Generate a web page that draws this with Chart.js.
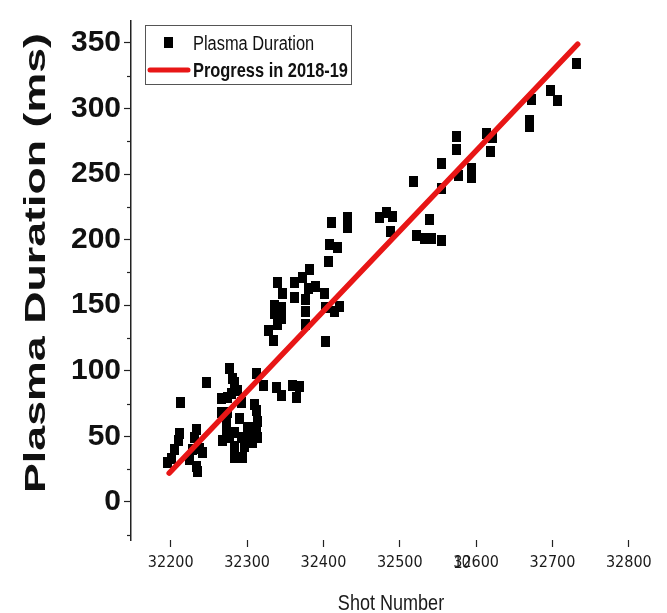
<!DOCTYPE html>
<html>
<head>
<meta charset="utf-8">
<script src="https://cdn.jsdelivr.net/npm/chart.js@4.4.1/dist/chart.umd.min.js"></script>
<style>
  html, body { margin: 0; padding: 0; background: #fff; }
</style>
</head>
<body>
<canvas id="chart" width="667" height="613"></canvas>
<script>
// shot numbers and plasma durations (ms)
const shotNumber = [
  32196, 32201, 32205, 32210, 32212, 32213, 32225, 32228, 32231, 32234,
  32234, 32235, 32238, 32241, 32247, 32267, 32267, 32268, 32273, 32273,
  32275, 32275, 32277, 32277, 32280, 32281, 32284, 32284, 32284, 32284,
  32288, 32290, 32293, 32293, 32294, 32297, 32301, 32303, 32307, 32310,
  32313, 32313, 32313, 32314, 32314, 32321, 32328, 32334, 32336, 32336,
  32339, 32340, 32340, 32345, 32345, 32345, 32347, 32359, 32362, 32362,
  32365, 32369, 32373, 32376, 32376, 32376, 32380, 32382, 32389, 32402,
  32403, 32403, 32406, 32408, 32410, 32414, 32418, 32421, 32431, 32432,
  32474, 32482, 32488, 32491, 32518, 32522, 32533, 32539, 32541, 32555,
  32555, 32555, 32574, 32574, 32577, 32594, 32594, 32614, 32619, 32622,
  32670, 32670, 32673, 32697, 32706, 32732
];
const plasmaDuration = [
  30, 33, 40, 47, 52, 76, 32, 40, 49, 27,
  55, 23, 41, 38, 91, 79, 68, 47, 64, 55,
  80, 68, 102, 49, 83, 94, 91, 53, 42, 34,
  85, 64, 76, 49, 34, 42, 57, 49, 45, 74,
  98, 70, 57, 61, 49, 89, 131, 123, 150, 144,
  87, 167, 135, 148, 140, 81, 159, 89, 167, 156,
  80, 88, 171, 154, 145, 135, 163, 177, 164, 159,
  148, 122, 183, 196, 213, 145, 194, 149, 217, 209,
  217, 221, 206, 218, 244, 203, 201, 215, 201, 258,
  239, 199, 279, 269, 249, 254, 247, 281, 267, 278,
  291, 286, 307, 314, 306, 334
];

// fitted progress line (two end points)
const trendShots = [32198, 32733];
const trendDuration = [22, 349];

const xTickValues = [32200, 32300, 32400, 32500, 32600, 32700, 32800];
const yTickValues = [0, 50, 100, 150, 200, 250, 300, 350];
const yMinorValues = [-25, 25, 75, 125, 175, 225, 275, 325];

const condFont = "'DejaVu Sans Condensed', 'Liberation Sans', sans-serif";
const boldFont = "'Liberation Sans', Arial, sans-serif";

// little black box used as the scatter marker
const marker = document.createElement('canvas');
marker.width = 9;
marker.height = 11;
const mctx = marker.getContext('2d');
mctx.fillStyle = '#000';
mctx.fillRect(0, 0, 9, 11);

// Arial-narrow look: Liberation Sans squeezed sideways
function narrowText(ctx, text, x, y, font, align) {
  ctx.save();
  ctx.font = font;
  ctx.textAlign = align;
  ctx.textBaseline = 'alphabetic';
  ctx.translate(x, y);
  ctx.scale(0.82, 1);
  ctx.fillText(text, 0, 0);
  ctx.restore();
}

const extrasPlugin = {
  id: 'extras',
  afterDraw(chart) {
    const ctx = chart.ctx;
    const area = chart.chartArea;
    const yScale = chart.scales.y;
    const ds = chart.data.datasets;

    // minor ticks on the y axis
    ctx.save();
    ctx.strokeStyle = '#222';
    ctx.lineWidth = 1.2;
    yMinorValues.forEach(v => {
      const py = Math.round(yScale.getPixelForValue(v)) + 0.5;
      ctx.beginPath();
      ctx.moveTo(area.left - 4, py);
      ctx.lineTo(area.left, py);
      ctx.stroke();
    });
    ctx.restore();

    // y axis title, wide bold lettering
    ctx.save();
    const title = 'Plasma Duration (ms)';
    ctx.translate(37, 263);
    ctx.rotate(-Math.PI / 2);
    ctx.font = 'bold 30px ' + boldFont;
    const w = ctx.measureText(title).width;
    ctx.scale(460 / w, 1);
    ctx.fillStyle = '#111';
    ctx.textAlign = 'center';
    ctx.textBaseline = 'middle';
    ctx.fillText(title, 0, 0);
    ctx.restore();

    ctx.save();
    ctx.fillStyle = '#1a1a1a';
    // x axis title
    narrowText(ctx, 'Shot Number', (area.left + area.right) / 2, 610, '22px ' + boldFont, 'center');
    // stray "10" that sits on top of the 32600 label
    narrowText(ctx, '10', 462, 568, '18px ' + boldFont, 'center');
    ctx.restore();

    // legend box
    ctx.save();
    ctx.strokeStyle = '#555';
    ctx.lineWidth = 1;
    ctx.fillStyle = '#fff';
    ctx.fillRect(145, 25, 206, 59);
    ctx.strokeRect(145.5, 25.5, 206, 59);

    ctx.drawImage(marker, 164, 37);
    ctx.fillStyle = '#111';
    narrowText(ctx, ds[0].label, 193, 50, '20px ' + boldFont, 'left');

    ctx.strokeStyle = ds[1].borderColor;
    ctx.lineWidth = 5;
    ctx.lineCap = 'round';
    ctx.beginPath();
    ctx.moveTo(150, 70);
    ctx.lineTo(188, 70);
    ctx.stroke();
    narrowText(ctx, ds[1].label, 193, 77, 'bold 20px ' + boldFont, 'left');
    ctx.restore();
  }
};

new Chart(document.getElementById('chart'), {
  type: 'scatter',
  data: {
    datasets: [{
      label: 'Plasma Duration',
      data: shotNumber.map((s, i) => ({ x: s, y: plasmaDuration[i] })),
      pointStyle: marker,
      pointRadius: 5,
      backgroundColor: '#000',
      borderColor: '#000',
      order: 1
    }, {
      label: 'Progress in 2018-19',
      type: 'line',
      data: trendShots.map((s, i) => ({ x: s, y: trendDuration[i] })),
      borderColor: 'rgb(232, 22, 22)',
      borderWidth: 5.5,
      borderCapStyle: 'round',
      pointRadius: 0,
      fill: false,
      order: 0
    }]
  },
  options: {
    responsive: false,
    animation: false,
    devicePixelRatio: 1,
    layout: { padding: { top: 20, right: 16, left: 0, bottom: 0 } },
    plugins: {
      legend: { display: false },
      tooltip: { enabled: false }
    },
    scales: {
      x: {
        type: 'linear',
        min: 32148,
        max: 32829,
        afterBuildTicks: scale => { scale.ticks = xTickValues.map(v => ({ value: v })); },
        afterFit: scale => { scale.height = 73; },
        ticks: {
          font: { family: condFont, size: 16 },
          color: '#1a1a1a',
          padding: 6,
          maxRotation: 0,
          autoSkip: false,
          callback: v => String(v)
        },
        grid: { drawOnChartArea: false, tickLength: 7, tickColor: '#222', tickWidth: 1.2 },
        border: { display: false }
      },
      y: {
        min: -29,
        max: 366.7,
        afterBuildTicks: scale => { scale.ticks = yTickValues.map(v => ({ value: v })); },
        afterFit: scale => { scale.width = 131; },
        ticks: {
          font: { family: boldFont, size: 30, weight: 'bold' },
          color: '#111',
          padding: 3
        },
        grid: { drawOnChartArea: false, tickLength: 7, tickColor: '#222', tickWidth: 1.2 },
        border: { display: true, color: '#222', width: 1.5 }
      }
    }
  },
  plugins: [extrasPlugin]
});
</script>
</body>
</html>
